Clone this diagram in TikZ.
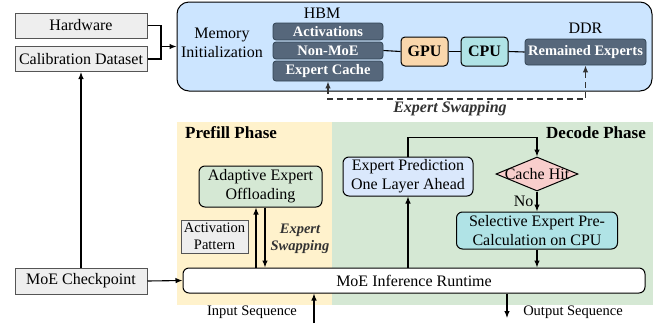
\documentclass[tikz,border=0pt]{standalone}
\usepackage{fontspec}
\setmainfont{Liberation Serif}
\usetikzlibrary{arrows.meta,shapes.geometric}

\definecolor{boxgrey}{HTML}{EEEEEE}
\definecolor{boxedge}{HTML}{555555}
\definecolor{memblue}{HTML}{CCE5FF}
\definecolor{slate}{HTML}{56677B}
\definecolor{slateedge}{HTML}{314354}
\definecolor{gpuorange}{HTML}{FAD7AC}
\definecolor{cpucyan}{HTML}{B0E3E6}
\definecolor{prefillbg}{HTML}{FFF2CC}
\definecolor{decodebg}{HTML}{D5E8D4}
\definecolor{predblue}{HTML}{DAE8FC}
\definecolor{hitpink}{HTML}{F8CECC}

\newcommand{\fsnormal}{\fontsize{16}{19}\selectfont}
\newcommand{\fssmall}{\fontsize{14.5}{17}\selectfont}
\newcommand{\fstitle}{\fontsize{17}{20}\selectfont\bfseries}

\tikzset{
  greybox/.style={draw=boxedge, fill=boxgrey, line width=1pt, inner sep=0pt,
    minimum width=132, minimum height=25, font=\fsnormal},
  slatebox/.style={draw=slateedge, fill=slate, line width=0.8pt, rounded corners=3pt,
    inner sep=0pt, minimum width=110, text=white, font=\fssmall\bfseries},
  chipbox/.style={draw=black, line width=1pt, rounded corners=4pt, inner sep=0pt,
    minimum width=47, minimum height=29, font=\fsnormal\bfseries},
  stepbox/.style={draw=black, line width=1pt, rounded corners=6pt, inner sep=0pt,
    align=center, font=\fsnormal},
  plain/.style={inner sep=0pt, align=center, font=\fsnormal},
  arrowline/.style={line width=1.1pt, -{Latex[length=7pt,width=5.5pt]}},
  joinline/.style={line width=1.1pt},
  swapline/.style={line width=1.3pt, dash pattern=on 6pt off 4pt, draw=black!80,
    {Latex[length=7pt,width=5.5pt]}-{Latex[length=7pt,width=5.5pt]}},
}

\begin{document}
\begin{tikzpicture}[x=1pt,y=-1pt]
  \useasboundingbox (0,0) rectangle (664,325);

  % Drawing phase backgrounds
  \fill [prefillbg] (177,122) rectangle (332,305);%
  \fill [decodebg] (332,122) rectangle (653,305);%
  \node [anchor=west, inner sep=0pt, font=\fstitle] (prefilltitle) at (185,133) {Prefill Phase};%
  \node [anchor=east, inner sep=0pt, font=\fstitle] (decodetitle) at (646,133) {Decode Phase};%

  % Drawing input boxes
  \node [greybox] (hw) at (81,25.5) {Hardware};%
  \node [greybox] (calib) at (81,59) {Calibration Dataset};%
  \node [greybox, minimum height=26] (ckpt) at (81,281) {MoE Checkpoint};%

  % Drawing memory initialization box
  \node [draw=black, fill=memblue, line width=1pt, rounded corners=12pt,
         minimum width=475, minimum height=89, inner sep=0pt] (mem) at (414.5,46.5) {};%
  \node [plain] (meminit) at (222,43) {Memory\\Initialization};%
  \node [plain] (hbm) at (322,13) {HBM};%
  \node [slatebox, minimum height=17] (act) at (328,31.5) {Activations};%
  \node [slatebox, minimum height=17] (nonmoe) at (328,50.5) {Non-MoE};%
  \node [slatebox, minimum height=20] (cache) at (328,71) {Expert Cache};%
  \node [chipbox, fill=gpuorange] (gpu) at (424.5,51.5) {GPU};%
  \node [chipbox, fill=cpucyan] (cpu) at (484.5,51.5) {CPU};%
  \node [plain] (ddr) at (585.5,28) {DDR};%
  \node [slatebox, minimum width=121, minimum height=26] (remain) at (585.5,52) {Remained Experts};%

  % Drawing memory links
  \draw [joinline] (nonmoe.east) -- (gpu.west);%
  \draw [joinline] (gpu.east) -- (cpu.west);%
  \draw [joinline] (cpu.east) -- (remain.west);%

  % Drawing expert swapping between HBM and DDR
  \coordinate (swapleft) at (328,99);%
  \coordinate (swapright) at (585.5,99);%
  \draw [swapline] (cache.south) -- (swapleft) -- (swapright) -- (remain.south);%
  \node [plain, font=\fsnormal\bfseries\itshape, text=black!80] (swaptop) at (450,109) {Expert Swapping};%

  % Drawing inputs to memory initialization
  \coordinate (join) at (161,46.5);%
  \draw [joinline] (hw.east) -| (join);%
  \draw [joinline] (calib.east) -| (join);%
  \draw [arrowline] (join) -- (mem.west);%
  \draw [arrowline] (ckpt.north) -- (calib.south);%

  % Drawing prefill phase
  \node [stepbox, fill=decodebg, minimum width=123, minimum height=41] (adapt) at (260.5,186.5) {Adaptive Expert\\Offloading};%
  \node [greybox, align=center, minimum width=67, minimum height=33, font=\fssmall] (pattern) at (214.5,236.5) {Activation\\Pattern};%
  \node [plain, font=\fssmall\bfseries\itshape, text=black!80] (swapmid) at (300,239) {Expert\\Swapping};%

  % Drawing runtime
  \node [stepbox, fill=white, minimum width=462, minimum height=25] (runtime) at (414,280.5) {MoE Inference Runtime};%
  \draw [arrowline] (ckpt.east) -- (runtime.west);%
  \draw [arrowline] ([xshift=-4.5pt]adapt.south |- runtime.north) -- ([xshift=-4.5pt]adapt.south);%
  \draw [arrowline] ([xshift=4.5pt]adapt.south) -- ([xshift=4.5pt]adapt.south |- runtime.north);%

  % Drawing decode phase
  \node [stepbox, fill=predblue, minimum width=130, minimum height=39] (predict) at (408,176.5) {Expert Prediction\\One Layer Ahead};%
  \node [diamond, draw=black, fill=hitpink, line width=1pt, inner sep=0pt,
         minimum width=82, minimum height=34, label={[font=\fsnormal]center:Cache Hit}] (hit) at (537,174) {};%
  \node [stepbox, fill=cpucyan, minimum width=161, minimum height=37] (select) at (537,230.5) {Selective Expert Pre-\\Calculation on CPU};%
  \draw [arrowline] (predict.south |- runtime.north) -- (predict.south);%
  \draw [arrowline] (predict.north) -- ++(0,-19) -| (hit.north);%
  \draw [arrowline] (hit.south) -- node [left, font=\fsnormal, inner sep=3pt] {No} (select.north);%
  \draw [arrowline] (select.south) -- (select.south |- runtime.north);%

  % Drawing input and output sequence
  \node [plain, font=\fssmall] (insequence) at (252,312) {Input Sequence};%
  \node [plain, font=\fssmall] (outsequence) at (573,312) {Output Sequence};%
  \coordinate (inbottom) at (314,323);%
  \coordinate (outbottom) at (507,318);%
  \draw [arrowline] (inbottom) -- (inbottom |- runtime.south);%
  \draw [arrowline] (outbottom |- runtime.south) -- (outbottom);%
\end{tikzpicture}
\end{document}
